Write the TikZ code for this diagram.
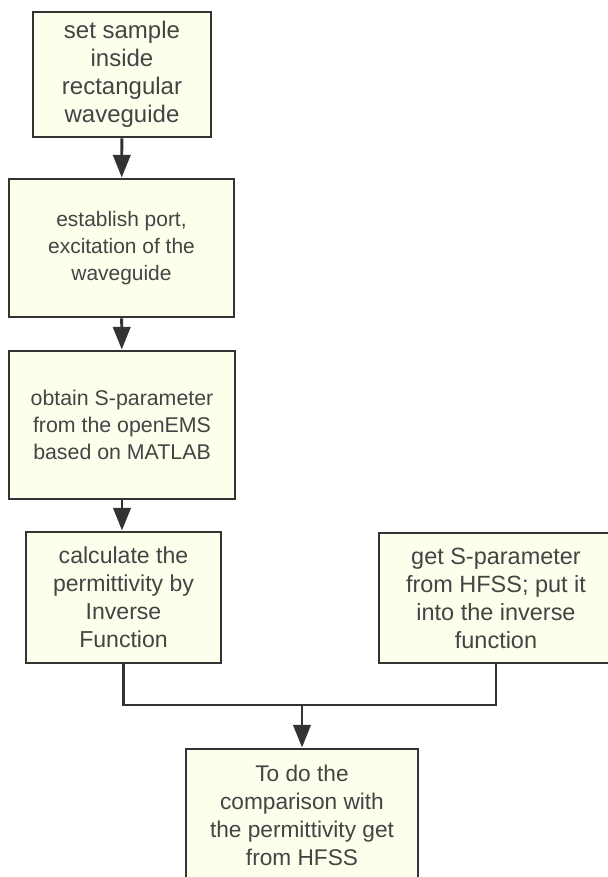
\documentclass[tikz,border=0pt]{standalone}
\usepackage{fontspec}
\setmainfont{Liberation Sans}
\usetikzlibrary{arrows.meta,positioning,calc}
\definecolor{boxFill}{HTML}{FEFEEC}
\definecolor{boxLine}{HTML}{333333}
\definecolor{boxText}{HTML}{444444}
\tikzset{
	pbox/.style={
		draw=boxLine,
		fill=boxFill,
		text=boxText,
		align=center,
		line width=2.2pt,
		inner sep=0pt
	},
	pline/.style={line width=2.2pt, boxLine},
	parr/.style={pline, -{Triangle[length=17pt, width=13pt]}}
}

\begin{document}
\begin{tikzpicture}[x=0.75pt, y=-0.75pt]
		\useasboundingbox (0,0) rectangle (607,877);
		\node[pbox, minimum width=178*0.75pt, minimum height=125*0.75pt,
			font=\fontsize{18}{21}\selectfont] (setS) at (122,74.5)
			{set sample\\inside\\rectangular\\waveguide};
		\node[pbox, minimum width=225*0.75pt, minimum height=138*0.75pt,
			font=\fontsize{15.7}{20}\selectfont] (port) at (121.5,248)
			{establish port,\\excitation of the\\waveguide};
		\node[pbox, minimum width=226*0.75pt, minimum height=148*0.75pt,
			font=\fontsize{16}{20}\selectfont] (sPar) at (122,425)
			{obtain S-parameter\\from the openEMS\\based on MATLAB};
		\node[pbox, minimum width=195*0.75pt, minimum height=131*0.75pt,
			font=\fontsize{17.3}{21}\selectfont] (calc) at (123.5,597.5)
			{calculate the\\permittivity by\\Inverse\\Function};
		\node[pbox, minimum width=234*0.75pt, minimum height=130*0.75pt,
			font=\fontsize{17.6}{21}\selectfont] (hfss) at (496,598)
			{get S-parameter\\from HFSS; put it\\into the inverse\\function};
		\node[pbox, minimum width=232*0.75pt, minimum height=132*0.75pt,
			font=\fontsize{17}{21}\selectfont] (comp) at (302,815)
			{To do the\\comparison with\\the permittivity get\\from HFSS};
		\coordinate (join) at (302,705);
		\draw[parr] (setS) -- (port);
		\draw[parr] (port) -- (sPar);
		\draw[parr] (sPar.south) -- (sPar.south |- calc.north);
		\draw[pline] (calc.south) |- (join) -| (hfss.south);
		\draw[parr] (join) -- (comp.north);
	\end{tikzpicture}
\end{document}
